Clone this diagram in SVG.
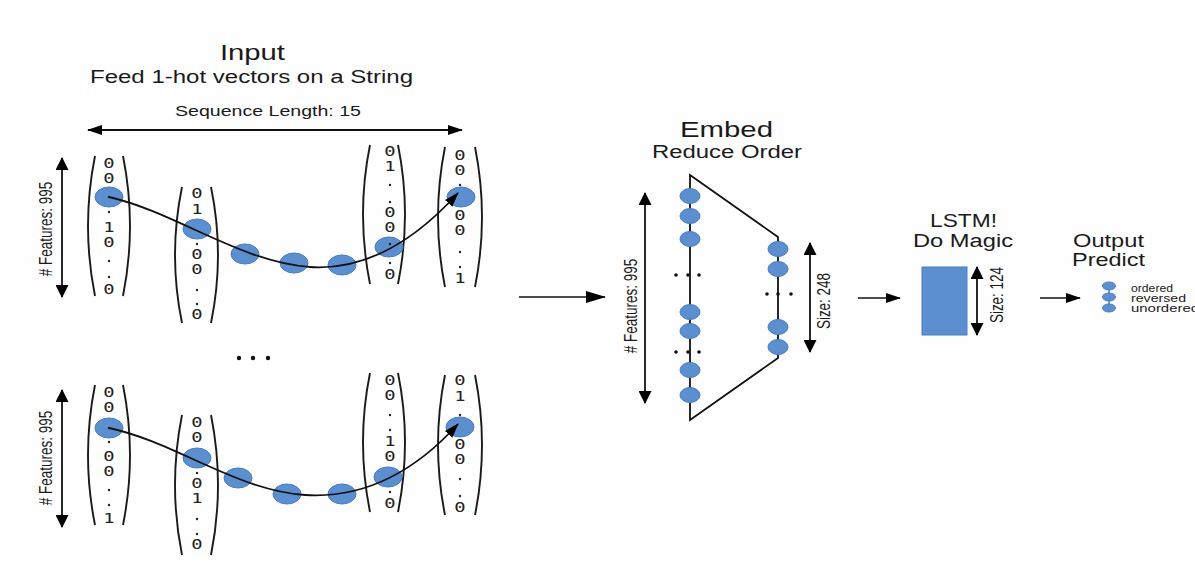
<svg xmlns="http://www.w3.org/2000/svg" width="1195" height="583" viewBox="0 0 1195 583">
<defs>
<style>
.t{font-family:"Liberation Sans",Arial,sans-serif;fill:#1a1a1a}
.d{font-family:"DejaVu Sans Mono","Liberation Mono",monospace;font-size:14.5px;fill:#222;text-anchor:middle}
.dot{fill:#222}
.par{fill:none;stroke:#1a1a1a;stroke-width:1.9}
.e{fill:#5b8fd0;stroke:#4a7cbf;stroke-width:1}
.ln{fill:none;stroke:#111;stroke-width:1.8}
.rt{font-family:"Liberation Sans",Arial,sans-serif;font-size:13.5px;fill:#1a1a1a;text-anchor:middle}
</style>
<marker id="ah" viewBox="0 0 15 10" refX="14" refY="5" markerWidth="15" markerHeight="10" markerUnits="userSpaceOnUse" orient="auto-start-reverse"><path d="M0,0 L15,5 L0,10 z" fill="#000"/></marker>
<marker id="av" viewBox="0 0 13 13" refX="12" refY="6.5" markerWidth="13" markerHeight="13" markerUnits="userSpaceOnUse" orient="auto-start-reverse"><path d="M0,0 L13,6.5 L0,13 z" fill="#000"/></marker>
<marker id="ab" viewBox="0 0 20 12" refX="19" refY="6" markerWidth="20" markerHeight="12" markerUnits="userSpaceOnUse" orient="auto"><path d="M0,0 L20,6 L0,12 z" fill="#000"/></marker>
</defs>
<rect width="1195" height="583" fill="#fefefe"/>

<g id="input-title">
<text class="t" x="220" y="60" font-size="22" textLength="65" lengthAdjust="spacingAndGlyphs">Input</text>
<text class="t" x="90" y="83" font-size="18" textLength="323" lengthAdjust="spacingAndGlyphs">Feed 1-hot vectors on a String</text>
<text class="t" x="175" y="116" font-size="15" textLength="186" lengthAdjust="spacingAndGlyphs">Sequence Length: 15</text>
</g>

<g id="features-top">
<text class="rt" transform="translate(45,229) scale(1.35,1) rotate(-90)" x="0" y="5">#  Features: 995</text>
</g>
<g id="features-bottom">
<text class="rt" transform="translate(45,458) scale(1.35,1) rotate(-90)" x="0" y="5">#  Features: 995</text>
</g>

<!-- top row vectors -->
<g id="vec-top-1">
<path class="par" d="M95,156 Q81,226 95,296"/><path class="par" d="M123,156 Q137,226 123,296"/>
<ellipse class="e" cx="109" cy="197" rx="14" ry="10"/>
<circle class="dot" cx="109" cy="197" r="1.2"/><circle class="dot" cx="109" cy="212" r="1.2"/>
<circle class="dot" cx="109" cy="261" r="1.2"/><circle class="dot" cx="109" cy="277" r="1.2"/>
<g transform="translate(109,0) scale(1.3,1)">
<text class="d" x="0" y="168">0</text><text class="d" x="0" y="183">0</text>
<text class="d" x="0" y="232">1</text><text class="d" x="0" y="247">0</text>
<text class="d" x="0" y="294">0</text>
</g>
</g>
<g id="vec-top-2">
<path class="par" d="M182,187 Q168,255 182,323"/><path class="par" d="M211,187 Q225,255 211,323"/>
<ellipse class="e" cx="197" cy="229" rx="14" ry="10"/>
<circle class="dot" cx="197" cy="244" r="1.2"/>
<circle class="dot" cx="197" cy="290" r="1.2"/><circle class="dot" cx="197" cy="304" r="1.2"/>
<g transform="translate(197,0) scale(1.3,1)">
<text class="d" x="0" y="198">0</text><text class="d" x="0" y="214">1</text>
<text class="d" x="0" y="259">0</text><text class="d" x="0" y="274">0</text>
<text class="d" x="0" y="319">0</text>
</g>
</g>
<g id="vec-top-3">
<path class="par" d="M370,145 Q356,214 370,284"/><path class="par" d="M398,145 Q412,214 398,284"/>
<ellipse class="e" cx="389" cy="247" rx="14" ry="10"/>
<circle class="dot" cx="390" cy="185" r="1.2"/><circle class="dot" cx="390" cy="202" r="1.2"/>
<circle class="dot" cx="390" cy="244" r="1.2"/><circle class="dot" cx="390" cy="263" r="1.2"/>
<g transform="translate(390,0) scale(1.3,1)">
<text class="d" x="0" y="156">0</text><text class="d" x="0" y="171">1</text>
<text class="d" x="0" y="217">0</text><text class="d" x="0" y="232">0</text>
<text class="d" x="0" y="279">0</text>
</g>
</g>
<g id="vec-top-4">
<path class="par" d="M445,147 Q431,217 445,287"/><path class="par" d="M475,147 Q489,217 475,287"/>
<ellipse class="e" cx="461" cy="197" rx="14" ry="10"/>
<circle class="dot" cx="460" cy="185" r="1.2"/>
<circle class="dot" cx="460" cy="252" r="1.2"/><circle class="dot" cx="460" cy="267" r="1.2"/>
<g transform="translate(460,0) scale(1.3,1)">
<text class="d" x="0" y="160">0</text><text class="d" x="0" y="175">0</text>
<text class="d" x="0" y="220">0</text><text class="d" x="0" y="235">0</text>
<text class="d" x="0" y="283">1</text>
</g>
</g>
<g id="seq-top">
<ellipse class="e" cx="245" cy="254" rx="14" ry="10"/>
<ellipse class="e" cx="294" cy="263" rx="14" ry="10"/>
<ellipse class="e" cx="342" cy="265" rx="14" ry="10"/>
</g>

<g id="ellipsis-mid">
<circle cx="239" cy="358" r="2.2" fill="#111"/><circle cx="253" cy="358" r="2.2" fill="#111"/><circle cx="268" cy="358" r="2.2" fill="#111"/>
</g>

<!-- bottom row vectors -->
<g id="vec-bot-1">
<path class="par" d="M95,385 Q81,455 95,525"/><path class="par" d="M123,385 Q137,455 123,525"/>
<ellipse class="e" cx="109" cy="428" rx="14" ry="10"/>
<circle class="dot" cx="109" cy="428" r="1.2"/><circle class="dot" cx="109" cy="442" r="1.2"/>
<circle class="dot" cx="109" cy="490" r="1.2"/><circle class="dot" cx="109" cy="505" r="1.2"/>
<g transform="translate(109,0) scale(1.3,1)">
<text class="d" x="0" y="397">0</text><text class="d" x="0" y="412">0</text>
<text class="d" x="0" y="461">0</text><text class="d" x="0" y="476">0</text>
<text class="d" x="0" y="523">1</text>
</g>
</g>
<g id="vec-bot-2">
<path class="par" d="M182,415 Q168,485 182,555"/><path class="par" d="M211,415 Q225,485 211,555"/>
<ellipse class="e" cx="197" cy="458" rx="14" ry="10"/>
<circle class="dot" cx="197" cy="473" r="1.2"/>
<circle class="dot" cx="197" cy="519" r="1.2"/><circle class="dot" cx="197" cy="534" r="1.2"/>
<g transform="translate(197,0) scale(1.3,1)">
<text class="d" x="0" y="427">0</text><text class="d" x="0" y="442">0</text>
<text class="d" x="0" y="488">0</text><text class="d" x="0" y="503">1</text>
<text class="d" x="0" y="549">0</text>
</g>
</g>
<g id="vec-bot-3">
<path class="par" d="M370,373 Q356,442 370,512"/><path class="par" d="M398,373 Q412,442 398,512"/>
<ellipse class="e" cx="388" cy="477" rx="14" ry="10"/>
<circle class="dot" cx="390" cy="415" r="1.2"/><circle class="dot" cx="390" cy="430" r="1.2"/>
<circle class="dot" cx="390" cy="492" r="1.2"/>
<g transform="translate(390,0) scale(1.3,1)">
<text class="d" x="0" y="385">0</text><text class="d" x="0" y="400">0</text>
<text class="d" x="0" y="446">1</text><text class="d" x="0" y="461">0</text>
<text class="d" x="0" y="508">0</text>
</g>
</g>
<g id="vec-bot-4">
<path class="par" d="M445,375 Q431,445 445,515"/><path class="par" d="M475,375 Q489,445 475,515"/>
<ellipse class="e" cx="460" cy="427" rx="14" ry="10"/>
<circle class="dot" cx="460" cy="415" r="1.2"/>
<circle class="dot" cx="460" cy="479" r="1.2"/><circle class="dot" cx="460" cy="496" r="1.2"/>
<g transform="translate(460,0) scale(1.3,1)">
<text class="d" x="0" y="385">0</text><text class="d" x="0" y="401">1</text>
<text class="d" x="0" y="449">0</text><text class="d" x="0" y="464">0</text>
<text class="d" x="0" y="512">0</text>
</g>
</g>
<g id="seq-bot">
<ellipse class="e" cx="238" cy="478" rx="14" ry="10"/>
<ellipse class="e" cx="287" cy="494" rx="14" ry="10"/>
<ellipse class="e" cx="342" cy="494" rx="14" ry="10"/>
</g>

<!-- Embed -->
<g id="embed">
<text class="t" x="680" y="137" font-size="22" textLength="93" lengthAdjust="spacingAndGlyphs">Embed</text>
<text class="t" x="652" y="158" font-size="18" textLength="150" lengthAdjust="spacingAndGlyphs">Reduce Order</text>
<path class="ln" d="M690,175 L778,237 L778,358 L690,420 Z"/>
<g class="e">
<ellipse cx="690" cy="196" rx="10" ry="7.5"/><ellipse cx="690" cy="216" rx="10" ry="7.5"/><ellipse cx="690" cy="239" rx="10" ry="7.5"/>
<ellipse cx="690" cy="312" rx="10" ry="7.5"/><ellipse cx="690" cy="331" rx="10" ry="7.5"/>
<ellipse cx="690" cy="370" rx="10" ry="7.5"/><ellipse cx="690" cy="395" rx="10" ry="7.5"/>
<ellipse cx="778" cy="249" rx="10" ry="7.5"/><ellipse cx="778" cy="269" rx="10" ry="7.5"/>
<ellipse cx="778" cy="327" rx="10" ry="7.5"/><ellipse cx="778" cy="347" rx="10" ry="7.5"/>
</g>
<g fill="#111">
<circle cx="676" cy="275" r="1.8"/><circle cx="688" cy="275" r="1.8"/><circle cx="699" cy="275" r="1.8"/>
<circle cx="676" cy="352" r="1.8"/><circle cx="688" cy="352" r="1.8"/><circle cx="699" cy="352" r="1.8"/>
<circle cx="767" cy="294" r="1.8"/><circle cx="778" cy="294" r="1.8"/><circle cx="791" cy="294" r="1.8"/>
</g>
<text class="rt" transform="translate(630,306) scale(1.35,1) rotate(-90)" x="0" y="5">#  Features: 995</text>
<text class="rt" transform="translate(823,301) scale(1.35,1) rotate(-90)" x="0" y="5">Size: 248</text>
</g>

<!-- LSTM -->
<g id="lstm">
<text class="t" x="930" y="227" font-size="18" textLength="67" lengthAdjust="spacingAndGlyphs">LSTM!</text>
<text class="t" x="913" y="247" font-size="18" textLength="100" lengthAdjust="spacingAndGlyphs">Do Magic</text>
<rect x="922" y="267" width="45" height="68" fill="#5b8fd0" stroke="#4a7cbf" stroke-width="1"/>
<text class="rt" transform="translate(996,295) scale(1.35,1) rotate(-90)" x="0" y="5">Size: 124</text>
</g>

<!-- Output -->
<g id="output">
<text class="t" x="1073" y="247" font-size="18" textLength="71" lengthAdjust="spacingAndGlyphs">Output</text>
<text class="t" x="1072" y="266" font-size="18" textLength="73" lengthAdjust="spacingAndGlyphs">Predict</text>
<line x1="1109" y1="286" x2="1109" y2="308" stroke="#4a7cbf" stroke-width="1.5"/>
<ellipse class="e" cx="1109" cy="286" rx="6.5" ry="4"/>
<ellipse class="e" cx="1109" cy="297" rx="6.5" ry="4"/>
<ellipse class="e" cx="1109" cy="308" rx="6.5" ry="4"/>
<text class="t" x="1131" y="292" font-size="11" textLength="42" lengthAdjust="spacingAndGlyphs">ordered</text>
<text class="t" x="1131" y="302" font-size="11" textLength="55" lengthAdjust="spacingAndGlyphs">reversed</text>
<text class="t" x="1131" y="312" font-size="11" textLength="68" lengthAdjust="spacingAndGlyphs">unordered</text>
</g>

<g id="connectors">
<line class="ln" x1="88" y1="130" x2="462" y2="130" marker-start="url(#ah)" marker-end="url(#ah)"/>
<line class="ln" x1="62" y1="158" x2="62" y2="297" marker-start="url(#av)" marker-end="url(#av)"/>
<line class="ln" x1="62" y1="390" x2="62" y2="527" marker-start="url(#av)" marker-end="url(#av)"/>
<path class="ln" d="M109,197 C175,212 240,262 310,267 C370,271 420,235 458,193" marker-end="url(#ah)"/>
<path class="ln" d="M109,428 C175,442 235,490 305,495 C370,499 420,466 458,424" marker-end="url(#ah)"/>
<line class="ln" x1="645" y1="193" x2="645" y2="403" marker-start="url(#av)" marker-end="url(#av)"/>
<line class="ln" x1="810" y1="243" x2="810" y2="352" marker-start="url(#av)" marker-end="url(#av)"/>
<line class="ln" x1="977" y1="267" x2="977" y2="335" marker-start="url(#av)" marker-end="url(#av)"/>
<line x1="519" y1="297" x2="605" y2="297" stroke="#111" stroke-width="1.5" marker-end="url(#ab)"/>
<line x1="858" y1="298" x2="900" y2="298" stroke="#111" stroke-width="1.5" marker-end="url(#ah)"/>
<line x1="1040" y1="298" x2="1080" y2="298" stroke="#111" stroke-width="1.5" marker-end="url(#ah)"/>
</g>
</svg>
